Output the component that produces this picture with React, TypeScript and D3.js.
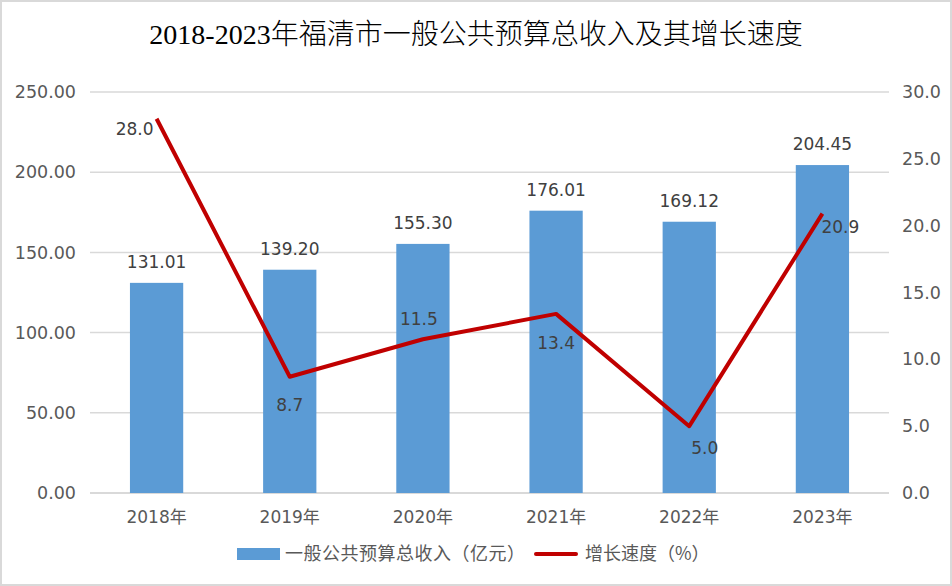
import React from "react";
import * as d3 from "d3";

const years = ["2018年", "2019年", "2020年", "2021年", "2022年", "2023年"];
const revenue = [131.01, 139.2, 155.3, 176.01, 169.12, 204.45];
const growth = [28.0, 8.7, 11.5, 13.4, 5.0, 20.9];
const leftTicks = [0, 50, 100, 150, 200, 250];
const rightTicks = [0, 5, 10, 15, 20, 25, 30];

// where each growth label sits relative to its point (as Excel placed them)
const growthLabelPlacement = [
  { dx: -3, dy: 10, anchor: "end" },
  { dx: 0, dy: 28, anchor: "middle" },
  { dx: -4, dy: -20, anchor: "middle" },
  { dx: 0, dy: 29, anchor: "middle" },
  { dx: 2, dy: 22, anchor: "start" },
  { dx: -1, dy: 13, anchor: "start" },
];

const W = 952;
const H = 586;
const margin = { top: 92, right: 63, bottom: 93, left: 90 };
const FONT = "'DejaVu Sans', 'Noto Sans CJK SC', sans-serif";

export default function App() {
  const w = W - margin.left - margin.right;
  const h = H - margin.top - margin.bottom;

  const x = d3.scaleBand().domain(years).range([0, w]).paddingInner(0.6).paddingOuter(0.3);
  const xc = (d: string) => (x(d) ?? 0) + x.bandwidth() / 2;
  const yL = d3.scaleLinear().domain([0, 250]).range([h, 0]);
  const yR = d3.scaleLinear().domain([0, 30]).range([h, 0]);

  const line = d3
    .line<number>()
    .x((_, i) => xc(years[i]))
    .y((d) => yR(d));

  return (
    <div style={{ position: "fixed", left: 0, top: 0 }}>
      <svg width={W} height={H} style={{ display: "block" }}>
        <rect x={1} y={1} width={W - 2} height={H - 2} fill="#fff" stroke="#d9d9d9" strokeWidth={2} />
        <text
          x={476}
          y={44}
          textAnchor="middle"
          fontSize={28}
          fill="#000"
          fontFamily="'Liberation Serif', 'Noto Sans CJK SC', serif"
          fontWeight={300}
        >
          2018-2023年福清市一般公共预算总收入及其增长速度
        </text>

        <g transform={`translate(${margin.left},${margin.top})`} fontFamily={FONT}>
          {/* gridlines + left axis */}
          {leftTicks.map((t) => (
            <g key={t}>
              <line x1={0} x2={w} y1={yL(t)} y2={yL(t)} stroke="#d9d9d9" strokeWidth={t === 0 ? 2 : 1.5} />
              <text x={-14} y={yL(t)} dy="0.35em" textAnchor="end" fontSize={17.5} fill="#595959">
                {t.toFixed(2)}
              </text>
            </g>
          ))}

          {/* right axis */}
          {rightTicks.map((t) => (
            <text key={t} x={w + 13} y={yR(t)} dy="0.35em" textAnchor="start" fontSize={17.5} fill="#595959">
              {t.toFixed(1)}
            </text>
          ))}

          {/* bars */}
          {years.map((yr, i) => (
            <g key={yr}>
              <rect x={x(yr)} y={yL(revenue[i])} width={x.bandwidth()} height={h - yL(revenue[i])} fill="#5b9bd5" />
              <text x={xc(yr)} y={yL(revenue[i]) - 15} textAnchor="middle" fontSize={17} fill="#404040">
                {revenue[i].toFixed(2)}
              </text>
              <text x={xc(yr)} y={h + 24} dy="0.35em" textAnchor="middle" fontSize={17} fill="#595959">
                {yr}
              </text>
            </g>
          ))}

          {/* growth line */}
          <path d={line(growth) || ""} fill="none" stroke="#c00000" strokeWidth={4} strokeLinejoin="round" />
          {growth.map((g, i) => {
            const o = growthLabelPlacement[i];
            return (
              <text
                key={i}
                x={xc(years[i]) + o.dx}
                y={yR(g) + o.dy}
                dy="0.35em"
                textAnchor={o.anchor}
                fontSize={17}
                fill="#404040"
              >
                {g.toFixed(1)}
              </text>
            );
          })}
        </g>

        {/* legend */}
        <g fontFamily="'Noto Sans CJK SC', sans-serif" fontSize={18} fill="#595959">
          <rect x={237} y={548} width={43} height={12} fill="#5b9bd5" />
          <text x={285} y={554} dy="0.35em" textLength={240}>一般公共预算总收入（亿元）</text>
          <line x1={536} x2={576} y1={554} y2={554} stroke="#c00000" strokeWidth={4} strokeLinecap="round" />
          <text x={585} y={554} dy="0.35em">增长速度（%）</text>
        </g>
      </svg>
    </div>
  );
}
